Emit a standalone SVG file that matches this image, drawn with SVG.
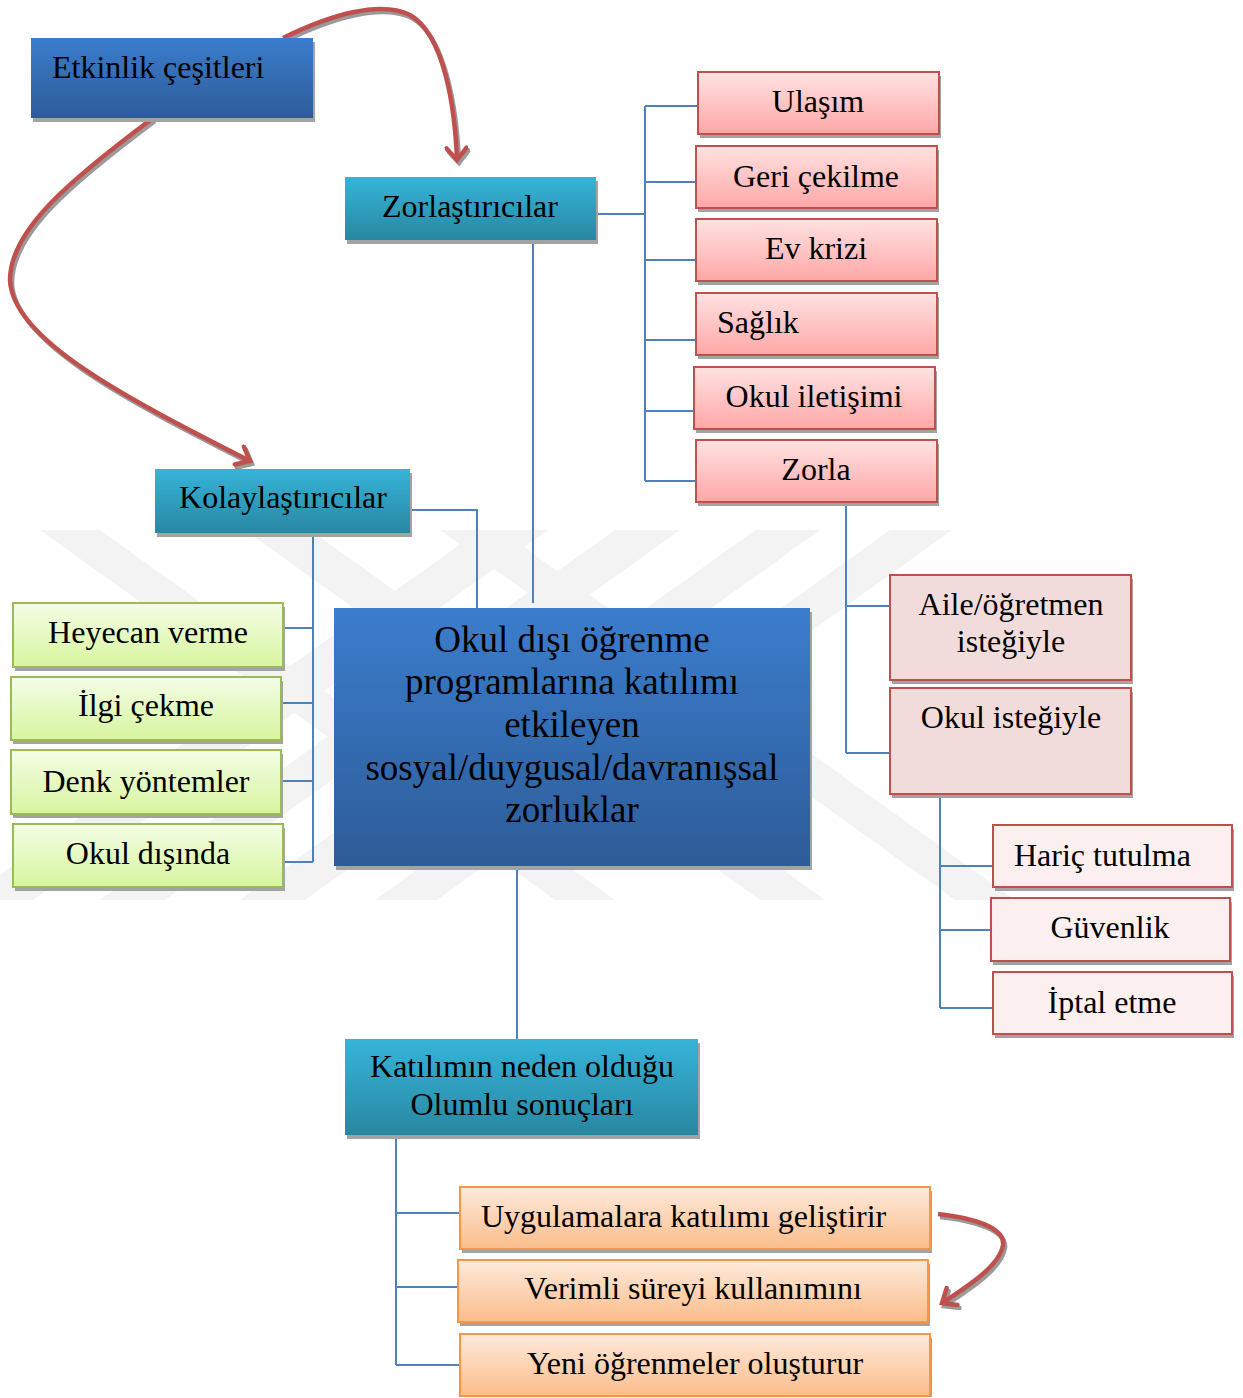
<svg xmlns="http://www.w3.org/2000/svg" width="1243" height="1398" viewBox="0 0 1243 1398">
<defs>
<linearGradient id="gBlue" x1="0" y1="0" x2="0" y2="1"><stop offset="0" stop-color="#3b7dcd"/><stop offset="1" stop-color="#2d5c98"/></linearGradient>
<linearGradient id="gTeal" x1="0" y1="0" x2="0" y2="1"><stop offset="0" stop-color="#36b4d9"/><stop offset="1" stop-color="#2987a2"/></linearGradient>
<linearGradient id="gPink" x1="0" y1="0" x2="0" y2="1"><stop offset="0" stop-color="#ffe2e2"/><stop offset="1" stop-color="#ffa7a7"/></linearGradient>
<linearGradient id="gGreen" x1="0" y1="0" x2="0" y2="1"><stop offset="0" stop-color="#f4fde6"/><stop offset="1" stop-color="#d7f59e"/></linearGradient>
<linearGradient id="gOrange" x1="0" y1="0" x2="0" y2="1"><stop offset="0" stop-color="#feeadc"/><stop offset="1" stop-color="#fbbd8a"/></linearGradient>
<marker id="ah" markerUnits="userSpaceOnUse" viewBox="-16 -12 20 24" refX="0" refY="0" markerWidth="20" markerHeight="24" orient="auto">
<path d="M-12,-10 L0,0 L-12,10" fill="none" stroke="#c0504d" stroke-width="4.5" stroke-linecap="round"/>
</marker>
<marker id="ahs" markerUnits="userSpaceOnUse" viewBox="-16 -12 20 24" refX="0" refY="0" markerWidth="20" markerHeight="24" orient="auto">
<path d="M-12,-10 L0,0 L-12,10" fill="none" stroke="#9a9a9a" stroke-width="4.5" stroke-linecap="round"/>
</marker>
<style>
text{font-family:"Liberation Serif","Times New Roman",serif;font-size:32px;fill:#000}
.c{text-anchor:middle}
.big{font-size:37px}
.sh{fill:#a3a3a3}
.blue{fill:url(#gBlue)}
.teal{fill:url(#gTeal)}
.pink{fill:url(#gPink);stroke:#c0504d;stroke-width:2}
.pflat{fill:#f2dcdb;stroke:#c0504d;stroke-width:2}
.plight{fill:#fbf0ef;stroke:#c0504d;stroke-width:2}
.green{fill:url(#gGreen);stroke:#9bbb59;stroke-width:2}
.orange{fill:url(#gOrange);stroke:#f79646;stroke-width:2}
.ln{fill:none;stroke:#4f81bd;stroke-width:2}
.arr{fill:none;stroke:#c0504d;stroke-width:4.5;marker-end:url(#ah)}
.arrs{fill:none;stroke:#9a9a9a;stroke-width:4.5;marker-end:url(#ahs)}
.wm{fill:#f3f3f3}
</style>
</defs>
<rect width="1243" height="1398" fill="#ffffff"/>

<g id="watermark">
<polygon class="wm" points="40,530 100,530 615,900 555,900"/>
<polygon class="wm" points="245,530 310,530 825,900 760,900"/>
<polygon class="wm" points="440,530 500,530 1015,900 955,900"/>
<polygon class="wm" points="480,530 548,530 33,900 -35,900"/>
<polygon class="wm" points="615,530 680,530 165,900 100,900"/>
<polygon class="wm" points="755,530 820,530 305,900 240,900"/>
<polygon class="wm" points="890,530 952,530 437,900 375,900"/>
</g>

<g id="connectors">
<path class="ln" d="M596,214 H645 M645,106 V481 M645,106 H698 M645,182 H696 M645,260 H696 M645,340 H696 M645,411 H694 M645,481 H696"/>
<path class="ln" d="M533,242 V603"/>
<path class="ln" d="M410,510 H477 V608"/>
<path class="ln" d="M313,535 V862 M283,628 H313 M281,703 H313 M281,781 H313 M283,862 H313"/>
<path class="ln" d="M846,504 V753 M846,606 H890 M846,753 H890"/>
<path class="ln" d="M940,796 V1008 M940,866 H993 M940,930 H991 M940,1008 H993"/>
<path class="ln" d="M517,867 V1039"/>
<path class="ln" d="M396,1137 V1365 M396,1213 H460 M396,1287 H458 M396,1365 H460"/>
</g>

<g id="arrows-shadow" transform="translate(2,3)">
<path class="arrs" d="M283,38 C330,15 380,0 410,15 C445,35 455,110 457,160"/>
<path class="arrs" d="M153,118 C70,180 10,230 10,280 C12,340 130,400 250,461"/>
<path class="arrs" d="M938,1214 C975,1218 1005,1228 1003,1245 C1000,1265 970,1285 942,1303"/>
</g>
<g id="arrows">
<path class="arr" d="M283,38 C330,15 380,0 410,15 C445,35 455,110 457,160"/>
<path class="arr" d="M153,118 C70,180 10,230 10,280 C12,340 130,400 250,461"/>
<path class="arr" d="M938,1214 C975,1218 1005,1228 1003,1245 C1000,1265 970,1285 942,1303"/>
</g>

<g id="n-etkinlik">
<rect class="sh" x="33" y="42" width="282" height="80"/>
<rect class="blue" x="31" y="38" width="282" height="80"/>
<text x="52" y="78">Etkinlik çeşitleri</text>
</g>

<g id="n-zor">
<rect class="sh" x="347" y="181" width="251" height="63"/>
<rect class="teal" x="345" y="177" width="251" height="63"/>
<text class="c" x="470" y="217">Zorlaştırıcılar</text>
</g>

<g id="n-kol">
<rect class="sh" x="157" y="473" width="255" height="64"/>
<rect class="teal" x="155" y="469" width="255" height="64"/>
<text class="c" x="283" y="508">Kolaylaştırıcılar</text>
</g>

<g id="n-ulasim">
<rect class="sh" x="700" y="76" width="241" height="62"/>
<rect class="pink" x="698" y="72" width="241" height="62"/>
<text class="c" x="818" y="112">Ulaşım</text>
</g>
<g id="n-geri">
<rect class="sh" x="698" y="150" width="241" height="62"/>
<rect class="pink" x="696" y="146" width="241" height="62"/>
<text class="c" x="816" y="187">Geri çekilme</text>
</g>
<g id="n-ev">
<rect class="sh" x="698" y="223" width="241" height="62"/>
<rect class="pink" x="696" y="219" width="241" height="62"/>
<text class="c" x="816" y="259">Ev krizi</text>
</g>
<g id="n-saglik">
<rect class="sh" x="698" y="297" width="241" height="62"/>
<rect class="pink" x="696" y="293" width="241" height="62"/>
<text x="717" y="333">Sağlık</text>
</g>
<g id="n-okuliletisim">
<rect class="sh" x="696" y="371" width="241" height="62"/>
<rect class="pink" x="694" y="367" width="241" height="62"/>
<text class="c" x="814" y="407">Okul iletişimi</text>
</g>
<g id="n-zorla">
<rect class="sh" x="698" y="444" width="241" height="62"/>
<rect class="pink" x="696" y="440" width="241" height="62"/>
<text class="c" x="816" y="480">Zorla</text>
</g>

<g id="n-aile">
<rect class="sh" x="892" y="579" width="241" height="105"/>
<rect class="pflat" x="890" y="575" width="241" height="105"/>
<text class="c" x="1011" y="615">Aile/öğretmen</text>
<text class="c" x="1011" y="652">isteğiyle</text>
</g>
<g id="n-okulistek">
<rect class="sh" x="892" y="692" width="241" height="106"/>
<rect class="pflat" x="890" y="688" width="241" height="106"/>
<text class="c" x="1011" y="728">Okul isteğiyle</text>
</g>

<g id="n-haric">
<rect class="sh" x="995" y="829" width="239" height="62"/>
<rect class="plight" x="993" y="825" width="239" height="62"/>
<text x="1014" y="866">Hariç tutulma</text>
</g>
<g id="n-guvenlik">
<rect class="sh" x="993" y="902" width="239" height="63"/>
<rect class="plight" x="991" y="898" width="239" height="63"/>
<text class="c" x="1110" y="938">Güvenlik</text>
</g>
<g id="n-iptal">
<rect class="sh" x="995" y="976" width="239" height="62"/>
<rect class="plight" x="993" y="972" width="239" height="62"/>
<text class="c" x="1112" y="1013">İptal etme</text>
</g>

<g id="n-heyecan">
<rect class="sh" x="15" y="607" width="270" height="64"/>
<rect class="green" x="13" y="603" width="270" height="64"/>
<text class="c" x="148" y="643">Heyecan verme</text>
</g>
<g id="n-ilgi">
<rect class="sh" x="13" y="681" width="270" height="63"/>
<rect class="green" x="11" y="677" width="270" height="63"/>
<text class="c" x="146" y="716">İlgi çekme</text>
</g>
<g id="n-denk">
<rect class="sh" x="13" y="754" width="270" height="64"/>
<rect class="green" x="11" y="750" width="270" height="64"/>
<text class="c" x="146" y="792">Denk yöntemler</text>
</g>
<g id="n-okuldisinda">
<rect class="sh" x="15" y="828" width="270" height="63"/>
<rect class="green" x="13" y="824" width="270" height="63"/>
<text class="c" x="148" y="864">Okul dışında</text>
</g>

<g id="n-center">
<rect class="sh" x="336" y="612" width="476" height="258"/>
<rect class="blue" x="334" y="608" width="476" height="258"/>
<text class="c big" x="572" y="652">Okul dışı öğrenme</text>
<text class="c big" x="572" y="694">programlarına katılımı</text>
<text class="c big" x="572" y="737">etkileyen</text>
<text class="c big" x="572" y="780">sosyal/duygusal/davranışsal</text>
<text class="c big" x="572" y="822">zorluklar</text>
</g>

<g id="n-katilim">
<rect class="sh" x="347" y="1043" width="353" height="96"/>
<rect class="teal" x="345" y="1039" width="353" height="96"/>
<text class="c" x="522" y="1077">Katılımın neden olduğu</text>
<text class="c" x="522" y="1115">Olumlu sonuçları</text>
</g>

<g id="n-uygulama">
<rect class="sh" x="462" y="1191" width="470" height="62"/>
<rect class="orange" x="460" y="1187" width="470" height="62"/>
<text x="481" y="1227">Uygulamalara katılımı geliştirir</text>
</g>
<g id="n-verimli">
<rect class="sh" x="460" y="1264" width="470" height="62"/>
<rect class="orange" x="458" y="1260" width="470" height="62"/>
<text class="c" x="693" y="1299">Verimli süreyi kullanımını</text>
</g>
<g id="n-yeni">
<rect class="sh" x="462" y="1338" width="470" height="59"/>
<rect class="orange" x="460" y="1334" width="470" height="62"/>
<text class="c" x="695" y="1374">Yeni öğrenmeler oluşturur</text>
</g>
</svg>
